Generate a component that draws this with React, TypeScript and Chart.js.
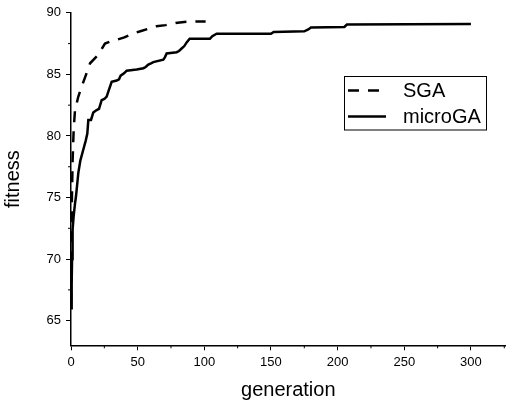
import React, { useEffect, useRef } from "react";
import { Chart, registerables } from "chart.js";

Chart.register(...registerables);

const xTickValues = [0, 50, 100, 150, 200, 250, 300];
const yTickValues = [65, 70, 75, 80, 85, 90];
const xMinorTicks = [25, 75, 125, 175, 225, 275, 325];
const yMinorTicks = [67.5, 72.5, 77.5, 82.5, 87.5];

const sgaGen = [0, 0.3, 0.7, 1.2, 2, 3, 5.5, 8, 11.7, 14.3, 20.5, 25.5, 30, 34, 40, 46, 52, 58, 64, 71, 80, 89, 101];
const sgaFit = [66.5, 70.5, 75, 78, 80.5, 82.1, 83.2, 84, 85.1, 85.9, 86.6, 87.5, 87.7, 87.8, 88.0, 88.3, 88.5, 88.7, 88.9, 89.0, 89.2, 89.3, 89.3];

const microGen = [0, 0.5, 0.8, 1.2, 2, 3, 3.75, 5.5, 7, 9.25, 11, 12.25, 13, 15, 16.7, 19.25, 21, 23, 25, 26.75, 28, 30.5, 34.25, 36, 37.25, 40, 41.75, 49.25, 54.3, 56, 58, 60, 61.75, 69.25, 70.5, 71.75, 79.3, 81, 83, 85, 86.75, 89, 91.75, 104.25, 106, 109.25, 150, 152, 175, 178, 180, 205, 207, 300];
const microFit = [66, 68, 70, 72.4, 73.5, 74.5, 75.1, 77, 78, 78.9, 79.6, 80.2, 81.3, 81.3, 81.9, 82.1, 82.2, 82.9, 83.0, 83.2, 83.6, 84.4, 84.5, 84.6, 84.9, 85.1, 85.3, 85.4, 85.5, 85.6, 85.8, 85.9, 86.0, 86.2, 86.4, 86.7, 86.8, 86.9, 87.1, 87.3, 87.6, 87.9, 87.9, 87.9, 88.1, 88.3, 88.3, 88.45, 88.5, 88.65, 88.8, 88.85, 89.05, 89.1];

const seriesNames = ["SGA", "microGA"];

const FONT = "'Liberation Sans', Arial, sans-serif";

export default function App() {
  const ref = useRef<HTMLCanvasElement | null>(null);
  useEffect(() => {
    if (!ref.current) return;
    const minorTicks = {
      id: "minorTicks",
      afterDraw(chart: any) {
        const ctx = chart.ctx;
        const xs = chart.scales.x;
        const ys = chart.scales.y;
        const { left, bottom } = chart.chartArea;
        ctx.save();
        ctx.strokeStyle = "#000";
        ctx.lineWidth = 1;
        ctx.beginPath();
        for (const v of xMinorTicks) {
          const px = xs.getPixelForValue(v);
          ctx.moveTo(px, bottom);
          ctx.lineTo(px, bottom + 3);
        }
        for (const v of yMinorTicks) {
          const py = ys.getPixelForValue(v);
          ctx.moveTo(left, py);
          ctx.lineTo(left - 3, py);
        }
        ctx.stroke();
        ctx.restore();
      },
    };
    const boxLegend = {
      id: "boxLegend",
      afterDraw(chart: any) {
        const ctx = chart.ctx;
        const bx = 344.5, by = 76.5, bw = 142, bh = 53.5;
        ctx.save();
        ctx.fillStyle = "#fff";
        ctx.fillRect(bx, by, bw, bh);
        ctx.strokeStyle = "#000";
        ctx.lineWidth = 1;
        ctx.strokeRect(bx, by, bw, bh);
        const rows = [90.5, 116.5];
        chart.data.datasets.forEach((ds: any, i: number) => {
          const y = rows[i];
          ctx.beginPath();
          ctx.strokeStyle = ds.borderColor;
          ctx.lineWidth = ds.borderWidth;
          ctx.setLineDash(ds.borderDash || []);
          ctx.moveTo(348, y);
          ctx.lineTo(386, y);
          ctx.stroke();
          ctx.setLineDash([]);
          ctx.fillStyle = "#000";
          ctx.font = `20px ${FONT}`;
          ctx.textBaseline = "middle";
          ctx.textAlign = "left";
          ctx.fillText(ds.label, 403, y + 1);
        });
        ctx.restore();
      },
    };
    const chart = new Chart(ref.current, {
      type: "line",
      data: {
        datasets: [
          {
            label: seriesNames[0],
            data: sgaGen.map((g, i) => ({ x: g, y: sgaFit[i] })),
            borderColor: "#000",
            borderWidth: 2.5,
            borderDash: [11, 9],
            pointRadius: 0,
            tension: 0,
            fill: false,
          },
          {
            label: seriesNames[1],
            data: microGen.map((g, i) => ({ x: g, y: microFit[i] })),
            borderColor: "#000",
            borderWidth: 2.5,
            pointRadius: 0,
            tension: 0,
            fill: false,
          },
        ],
      },
      options: {
        responsive: false,
        animation: false,
        layout: { padding: { top: 12.7, right: 2.4, left: 0, bottom: 0 } },
        plugins: { legend: { display: false }, tooltip: { enabled: false } },
        scales: {
          x: {
            type: "linear",
            min: 0,
            max: 326,
            afterBuildTicks: (s: any) => {
              s.ticks = xTickValues.map((v) => ({ value: v }));
            },
            afterFit: (s: any) => {
              s.height = 57.7;
            },
            grid: { display: true, drawOnChartArea: false, drawTicks: true, tickLength: 5, color: "#000", lineWidth: 1 },
            border: { display: true, color: "#000", width: 1.5 },
            ticks: { color: "#000", font: { family: FONT, size: 13 }, padding: 4, maxRotation: 0 },
            title: { display: true, text: "generation", color: "#000", font: { family: FONT, size: 20 }, padding: { top: 0, bottom: 1 } },
          },
          y: {
            type: "linear",
            min: 63,
            max: 90,
            afterBuildTicks: (s: any) => {
              s.ticks = yTickValues.map((v) => ({ value: v }));
            },
            afterFit: (s: any) => {
              s.width = 71;
            },
            grid: { display: true, drawOnChartArea: false, drawTicks: true, tickLength: 5, color: "#000", lineWidth: 1 },
            border: { display: true, color: "#000", width: 1.5 },
            ticks: { color: "#000", font: { family: FONT, size: 13 }, padding: 5 },
            title: { display: true, text: "fitness", color: "#000", font: { family: FONT, size: 20 }, padding: { top: 1, bottom: 0 } },
          },
        },
      },
      plugins: [minorTicks, boxLegend],
    } as any);
    return () => chart.destroy();
  }, []);
  return (
    <div style={{ position: "absolute", left: 0, top: 0, width: 508, height: 403, background: "#fff" }}>
      <canvas ref={ref} width={508} height={403} />
    </div>
  );
}
